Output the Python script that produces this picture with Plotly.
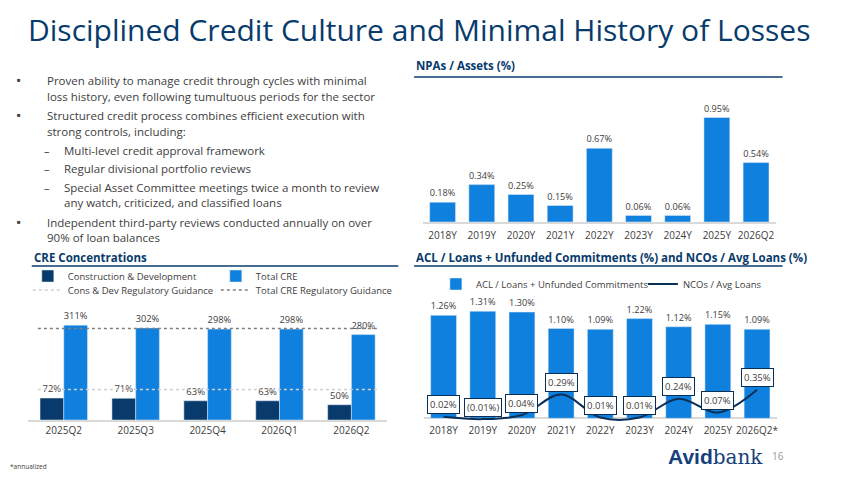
import plotly.graph_objects as go

# the page body has an 8px margin, so the figure is drawn a bit smaller and shifted
OX, OY = 8, 8
W, H = 850 - OX, 478 - OY

# 数据 / data
npa_years = ['2018Y', '2019Y', '2020Y', '2021Y', '2022Y', '2023Y', '2024Y', '2025Y', '2026Q2']
npa_values = [0.18, 0.34, 0.25, 0.15, 0.67, 0.06, 0.06, 0.95, 0.54]

acl_years = ['2018Y', '2019Y', '2020Y', '2021Y', '2022Y', '2023Y', '2024Y', '2025Y', '2026Q2*']
acl_values = [1.26, 1.31, 1.30, 1.10, 1.09, 1.22, 1.12, 1.15, 1.09]
nco_values = [0.02, -0.01, 0.04, 0.29, 0.01, 0.01, 0.24, 0.07, 0.35]
nco_labels = ['0.02%', '(0.01%)', '0.04%', '0.29%', '0.01%', '0.01%', '0.24%', '0.07%', '0.35%']

cre_quarters = ['2025Q2', '2025Q3', '2025Q4', '2026Q1', '2026Q2']
cons_dev = [72, 71, 63, 63, 50]
total_cre = [311, 302, 298, 298, 280]
cons_dev_guidance = 100
total_cre_guidance = 300

bullet_lines = [
    ('bullet', 'Proven ability to manage credit through cycles with minimal'),
    ('cont', 'loss history, even following tumultuous periods for the sector'),
    ('bullet', 'Structured credit process combines efficient execution with'),
    ('cont', 'strong controls, including:'),
    ('dash', 'Multi-level credit approval framework'),
    ('dash', 'Regular divisional portfolio reviews'),
    ('dash', 'Special Asset Committee meetings twice a month to review'),
    ('dashcont', 'any watch, criticized, and classified loans'),
    ('bullet', 'Independent third-party reviews conducted annually on over'),
    ('cont', '90% of loan balances'),
]
bullet_y = [80, 96, 115, 131, 150, 168, 187, 202, 222, 237]

BLUE = '#0f80de'
NAVY = '#083b6c'
TXT = '#404040'
FONT = 'Open Sans'


# 像素 -> paper 坐标 (reference pixels)
def px_x(x):
    return (x - OX) / W


def px_y(y):
    return 1 - (y - OY) / H


def note(x, y, text, **kw):
    fig.add_annotation(x=px_x(x), y=px_y(y), xref='paper', yref='paper', xanchor='left',
                       yanchor='middle', text=text, showarrow=False, **kw)


fig = go.Figure()

# NPAs / Assets
fig.add_trace(go.Bar(x=npa_years, y=npa_values, marker_color=BLUE,
                     text=[f'{v:.2f}%' for v in npa_values], textposition='outside',
                     textfont=dict(size=9.5, color=TXT), cliponaxis=False,
                     showlegend=False, xaxis='x', yaxis='y'))

# CRE concentrations
fig.add_trace(go.Bar(x=cre_quarters, y=cons_dev, name='Construction & Development',
                     marker_color=NAVY, text=[f'{v}%' for v in cons_dev],
                     textposition='outside', textfont=dict(size=9.5, color=TXT),
                     cliponaxis=False, xaxis='x2', yaxis='y2', legend='legend2'))
fig.add_trace(go.Bar(x=cre_quarters, y=total_cre, name='Total CRE',
                     marker_color=BLUE, text=[f'{v}%' for v in total_cre],
                     textposition='outside', textfont=dict(size=9.5, color=TXT),
                     cliponaxis=False, xaxis='x2', yaxis='y2', legend='legend2'))

# ACL + NCOs
fig.add_trace(go.Bar(x=acl_years, y=acl_values, name='ACL / Loans + Unfunded Commitments',
                     marker_color=BLUE, text=[f'{v:.2f}%' for v in acl_values],
                     textposition='outside', textfont=dict(size=9.5, color=TXT),
                     cliponaxis=False, xaxis='x3', yaxis='y3', legend='legend'))
fig.add_trace(go.Scatter(x=acl_years, y=nco_values, mode='lines', name='NCOs / Avg Loans',
                         line=dict(color='#0a2f57', width=2, shape='spline', smoothing=1.0),
                         xaxis='x3', yaxis='y3', legend='legend'))

for yr, v, lab in zip(acl_years, nco_values, nco_labels):
    fig.add_annotation(x=yr, y=v, xref='x3', yref='y3', text=lab, showarrow=False,
                       yshift=12, bgcolor='white', bordercolor='#0a2f57', borderwidth=1,
                       borderpad=2, font=dict(size=9.5, color=TXT))

# 参考线 guidance lines
fig.add_shape(type='line', xref='x2 domain', x0=0.028, x1=0.977, yref='y2',
              y0=cons_dev_guidance, y1=cons_dev_guidance,
              line=dict(color='#cfcfcf', width=1.3, dash='dot'),
              showlegend=True, name='Cons & Dev Regulatory Guidance', legend='legend3')
fig.add_shape(type='line', xref='x2 domain', x0=0.028, x1=0.977, yref='y2',
              y0=total_cre_guidance, y1=total_cre_guidance,
              line=dict(color='#7f7f7f', width=1.3, dash='dot'),
              showlegend=True, name='Total CRE Regulatory Guidance', legend='legend3')

# 标题和小标题 headers
note(26, 30, 'Disciplined Credit Culture and Minimal History of Losses',
     font=dict(size=30, color=NAVY, family=FONT))

headers = [('NPAs / Assets (%)', 418, 66, 790, 77),
           ('CRE Concentrations', 32, 257, 402, 266),
           ('ACL / Loans + Unfunded Commitments (%) and NCOs / Avg Loans (%)', 418, 257, 790, 266)]
for text, hx, hy, ux, uy in headers:
    note(hx, hy, f'<b>{text}</b>', font=dict(size=11.5, color=NAVY))
    fig.add_shape(type='line', xref='paper', yref='paper', x0=px_x(hx), x1=px_x(ux),
                  y0=px_y(uy), y1=px_y(uy), line=dict(color=NAVY, width=1.5))

# 文字 bullets
for (kind, text), by in zip(bullet_lines, bullet_y):
    if kind == 'bullet':
        note(15, by, '■', font=dict(size=6, color=TXT))
    if kind == 'dash':
        note(42, by, '–', font=dict(size=11, color=TXT))
    tx = 63 if kind in ('dash', 'dashcont') else 45
    note(tx, by, text, font=dict(size=11.5, color=TXT))

# logo
note(672, 457, "<b>Avid</b><span style='font-family:DejaVu Serif;font-size:20px'>bank</span>",
     font=dict(size=21, color='#16407a', family='Liberation Sans'))
note(777, 456, '16', font=dict(size=10, color='#9a9a9a'))
note(8, 466, '*annualized', font=dict(size=6.5, color=TXT))

tick_font = dict(size=10, color=TXT)
fig.update_layout(
    width=W, height=H, margin=dict(l=0, r=0, t=0, b=0),
    paper_bgcolor='white', plot_bgcolor='white',
    font=dict(family=FONT, color=TXT),
    barmode='group', bargap=0.34, bargroupgap=0,
    xaxis=dict(domain=[px_x(427), px_x(783)], anchor='y', showline=True, linecolor='#d9d9d9',
               linewidth=1.5, ticks='', tickfont=tick_font, ticklabelstandoff=3),
    yaxis=dict(domain=[px_y(222), px_y(112)], anchor='x', range=[0, 1.0], visible=False),
    xaxis2=dict(domain=[px_x(28), px_x(391)], anchor='y2', showline=True, linecolor='#d9d9d9',
                linewidth=1.5, ticks='', tickfont=tick_font),
    yaxis2=dict(domain=[px_y(420), px_y(420 - 340 * 0.305)], anchor='x2', range=[0, 340],
                visible=False),
    xaxis3=dict(domain=[px_x(428), px_x(784)], anchor='y3', showline=False, ticks='',
                tickfont=tick_font),
    yaxis3=dict(domain=[px_y(423.2), px_y(299.8)], anchor='x3', range=[-0.06, 1.45],
                showgrid=False, showticklabels=False, ticks='', zeroline=True,
                zerolinecolor='#d9d9d9', zerolinewidth=1.5),
    legend=dict(x=px_x(440), y=px_y(284), xanchor='left', yanchor='middle', orientation='h',
                entrywidth=162, font=dict(size=9.5, color=TXT), bgcolor='rgba(0,0,0,0)'),
    legend2=dict(x=px_x(28), y=px_y(276), xanchor='left', yanchor='middle', orientation='h',
                 entrywidth=143, font=dict(size=9.5, color=TXT), bgcolor='rgba(0,0,0,0)'),
    legend3=dict(x=px_x(28), y=px_y(290), xanchor='left', yanchor='middle', orientation='h',
                 entrywidth=143, font=dict(size=9.5, color=TXT), bgcolor='rgba(0,0,0,0)'),
)

fig.write_html("out.html")
